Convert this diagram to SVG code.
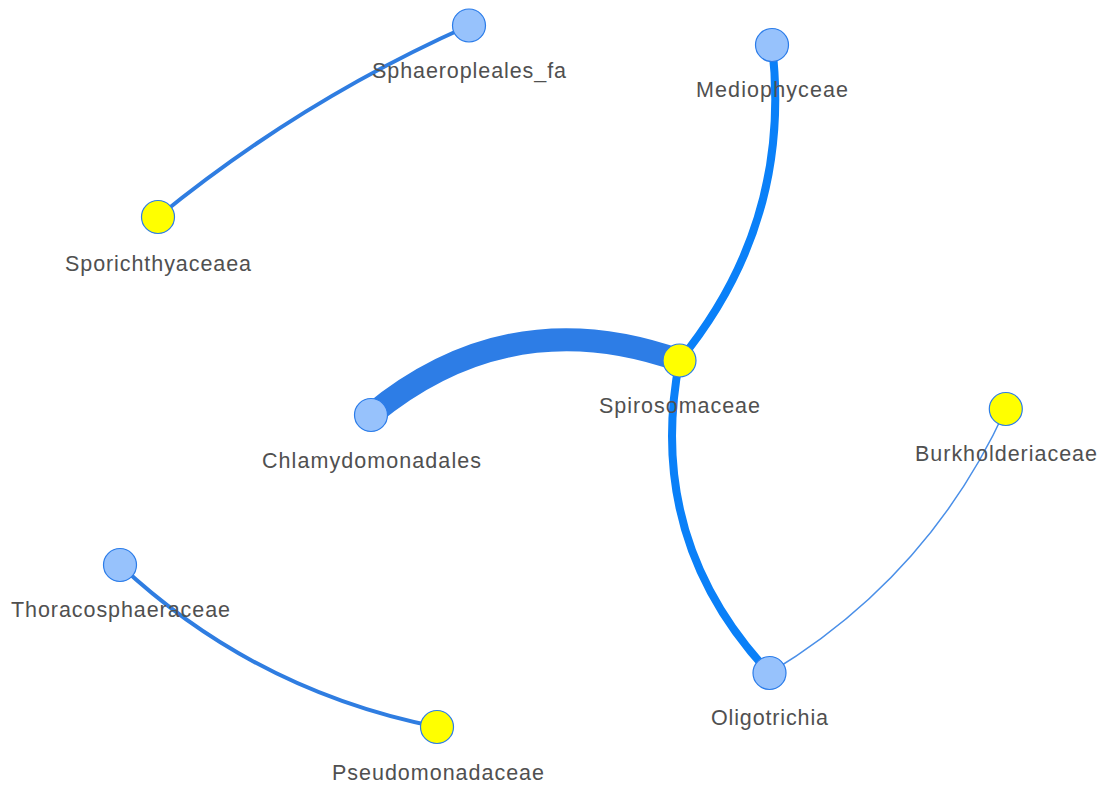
<svg xmlns="http://www.w3.org/2000/svg" width="1102" height="786" viewBox="0 0 1102 786">
<style>
.e{fill:none;stroke-linecap:butt}
.b{fill:#97c2fc;stroke:#2b7ce9;stroke-width:1.2}
.y{fill:#ffff00;stroke:#2b7ce9;stroke-width:1.2}
.t{font-family:"Liberation Sans",Arial,sans-serif;font-size:21.5px;fill:#505050;text-anchor:middle}
</style>
<rect width="1102" height="786" fill="#ffffff"/>
<g id="edges">
<path class="e" d="M469,25.5 Q300.4,100.6 158,217" stroke="#2f7de1" stroke-width="4"/>
<path class="e" d="M679.5,360.5 Q793,222 772,45" stroke="#0a80f8" stroke-width="8"/>
<path class="e" d="M679.5,360.5 Q509.8,300.3 371,415" stroke="#2d7de6" stroke-width="23"/>
<path class="e" d="M679.5,360.5 Q645,540 769.5,673" stroke="#0a80f8" stroke-width="8"/>
<path class="e" d="M769.5,673 Q929,577 1005.8,409" stroke="#4a8fe8" stroke-width="1.5"/>
<path class="e" d="M120,565 Q254.7,690.9 437,727" stroke="#2f7de1" stroke-width="4"/>
</g>
<g id="n-sphaeropleales"><circle class="b" cx="469" cy="25.5" r="16.5"/><text class="t" x="469" y="78" textLength="194" lengthAdjust="spacing">Sphaeropleales_fa</text></g>
<g id="n-sporichthyaceaea"><circle class="y" cx="158" cy="217" r="16.5"/><text class="t" x="158" y="271" textLength="186" lengthAdjust="spacing">Sporichthyaceaea</text></g>
<g id="n-mediophyceae"><circle class="b" cx="772" cy="45" r="16.5"/><text class="t" x="772" y="97" textLength="152" lengthAdjust="spacing">Mediophyceae</text></g>
<g id="n-spirosomaceae"><circle class="y" cx="679.5" cy="360.5" r="16.5"/><text class="t" x="679.5" y="413" textLength="161" lengthAdjust="spacing">Spirosomaceae</text></g>
<g id="n-chlamydomonadales"><circle class="b" cx="371" cy="415" r="16.5"/><text class="t" x="371.5" y="468" textLength="219" lengthAdjust="spacing">Chlamydomonadales</text></g>
<g id="n-burkholderiaceae"><circle class="y" cx="1005.8" cy="409" r="16.5"/><text class="t" x="1006" y="461" textLength="182" lengthAdjust="spacing">Burkholderiaceae</text></g>
<g id="n-thoracosphaeraceae"><circle class="b" cx="120" cy="565" r="16.5"/><text class="t" x="120.5" y="617" textLength="219" lengthAdjust="spacing">Thoracosphaeraceae</text></g>
<g id="n-oligotrichia"><circle class="b" cx="769.5" cy="673" r="16.5"/><text class="t" x="769.5" y="725" textLength="117" lengthAdjust="spacing">Oligotrichia</text></g>
<g id="n-pseudomonadaceae"><circle class="y" cx="437" cy="727" r="16.5"/><text class="t" x="438" y="780" textLength="212" lengthAdjust="spacing">Pseudomonadaceae</text></g>
</svg>
